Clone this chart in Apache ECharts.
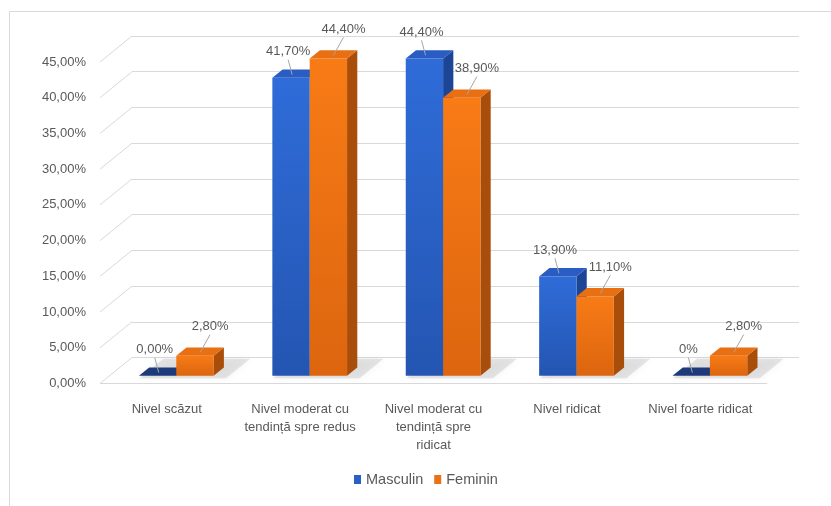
<!DOCTYPE html>
<html><head><meta charset="utf-8">
<script src="https://cdn.jsdelivr.net/npm/echarts@6/dist/echarts.min.js"></script>
<style>html,body{margin:0;padding:0;background:#fff}#c{width:831px;height:506px}</style>
</head><body><div id="c"></div>
<script>
// ---- data ----
const categories = ['Nivel scăzut', 'Nivel moderat cu\ntendință spre redus', 'Nivel moderat cu\ntendință spre\nridicat', 'Nivel ridicat', 'Nivel foarte ridicat'];
const seriesNames = ['Masculin', 'Feminin'];
const masculin = [0, 41.7, 44.4, 13.9, 0];
const feminin = [2.8, 44.4, 38.9, 11.1, 2.8];
const masculinLabels = ['0,00%', '41,70%', '44,40%', '13,90%', '0%'];
const femininLabels = ['2,80%', '44,40%', '38,90%', '11,10%', '2,80%'];
const yTicks = [0, 5, 10, 15, 20, 25, 30, 35, 40, 45];

// ---- 3D look ----
const WX = 32, WY = -26;     // wall depth offset
const F0 = 0.3, BD = 0.32;   // bar front depth & bar depth (fractions of wall depth)
const FONT = 'Liberation Sans';
const TXT = '#595959';
const GRIDC = '#d9d9d9';

const styles = [
  { front: new echarts.graphic.LinearGradient(0,0,0,1,[{offset:0,color:'#2f6cd8'},{offset:1,color:'#2455b2'}]),
    top: '#295dc4', topZero: '#1d3b7a', side: '#1c4595', lblDx: -8, lblDy: -22, leadDx: -4 },
  { front: new echarts.graphic.LinearGradient(0,0,0,1,[{offset:0,color:'#f87b16'},{offset:1,color:'#dc650e'}]),
    top: '#e86f12', topZero: '#e86f12', side: '#a94d0a', lblDx: 10, lblDy: -25, leadDx: 0 }
];

function barRender(s, labels) {
  return function (params, api) {
    const ci = api.value(0), v = api.value(1);
    const base = api.coord([ci, 0]);
    const top = api.coord([ci, v]);
    const band = api.size([1, 0])[0];
    const bw = band * 0.28;
    const x0 = base[0] + (s === 0 ? -bw : 0) + WX * F0;
    const x1 = x0 + bw;
    const yb = base[1] + WY * F0;
    const yt = top[1] + WY * F0;
    const dx = WX * BD, dy = WY * BD;
    const st = styles[s];
    const tcx = x0 + bw / 2 + dx / 2, tcy = yt + dy / 2;
    const lx = tcx + st.lblDx, ly = tcy + st.lblDy;
    return {
      type: 'group',
      children: [
        { type: 'polygon', shape: { points: [[x1, yb], [x1 + dx, yb + dy], [x1 + dx, yt + dy], [x1, yt]] }, style: { fill: st.side } },
        { type: 'rect', shape: { x: x0, y: yt, width: bw, height: Math.max(0, yb - yt) }, style: { fill: st.front } },
        { type: 'polygon', shape: { points: [[x0, yt], [x1, yt], [x1 + dx, yt + dy], [x0 + dx, yt + dy]] }, style: { fill: v === 0 ? st.topZero : st.top } },
        { type: 'line', shape: { x1: lx, y1: ly + 8, x2: tcx + st.leadDx, y2: tcy + 1 }, style: { stroke: '#a6a6a6', lineWidth: 1 }, z2: 5 },
        { type: 'text', x: lx, y: ly, style: { text: labels[params.dataIndex], fill: TXT, font: '13px ' + FONT, align: 'center', verticalAlign: 'middle' }, z2: 6 }
      ]
    };
  };
}

function wallRender(params, api) {
  const t = api.value(1);
  const p = api.coord([0, t]);
  const cs = params.coordSys;
  const ch = [
    { type: 'line', shape: { x1: cs.x, y1: p[1], x2: cs.x + WX, y2: p[1] + WY }, style: { stroke: GRIDC, lineWidth: 1 } }
  ];
  if (t === 0) {
    ch.push({ type: 'line', shape: { x1: cs.x, y1: p[1], x2: cs.x + cs.width, y2: p[1] }, style: { stroke: GRIDC, lineWidth: 1.2 } });
  }
  return { type: 'group', children: ch };
}

function shadowRender(params, api) {
  const ci = api.value(0);
  const base = api.coord([ci, 0]);
  const band = api.size([1, 0])[0];
  const bw = band * 0.28;
  const xl = base[0] - bw + WX * F0 - 6;
  const xr = base[0] + bw + WX * F0 + 6;
  const fa = F0 - 0.1, fb = 0.95;
  const y = base[1];
  return {
    type: 'polygon',
    shape: { points: [[xl + WX * fa, y + WY * fa], [xr + WX * fa, y + WY * fa], [xr + WX * fb, y + WY * fb], [xl + WX * fb, y + WY * fb]] },
    style: { fill: 'rgba(170,170,170,0.28)', shadowBlur: 7, shadowColor: 'rgba(160,160,160,0.5)' }
  };
}

const chart = echarts.init(document.getElementById('c'), null, { renderer: 'canvas' });
const frontGrid = { left: 100, right: 64, top: 62, bottom: 122.5 };
chart.setOption({
  animation: false,
  backgroundColor: '#fff',
  textStyle: { fontFamily: FONT },
  graphic: [
    { type: 'rect', shape: { x: 9.5, y: 11.5, width: 830, height: 500 }, style: { fill: 'none', stroke: GRIDC, lineWidth: 1 }, silent: true, z: -10 }
  ],
  legend: {
    bottom: 14, left: 349,
    itemWidth: 7, itemHeight: 9, itemGap: 11, itemTextGap: 5,
    icon: 'rect',
    textStyle: { color: TXT, fontSize: 14.5, fontFamily: FONT },
    data: [
      { name: 'Masculin', itemStyle: { color: '#2a5fc8' } },
      { name: 'Feminin', itemStyle: { color: '#ea7214' } }
    ]
  },
  grid: [
    Object.assign({}, frontGrid),
    { left: frontGrid.left + WX, right: frontGrid.right - WX, top: frontGrid.top + WY, bottom: frontGrid.bottom - WY }
  ],
  xAxis: [
    { type: 'category', gridIndex: 0, data: categories,
      axisLine: { show: false }, axisTick: { show: false },
      axisLabel: { color: TXT, fontSize: 13, fontFamily: FONT, margin: 17, lineHeight: 18, interval: 0 } },
    { type: 'category', gridIndex: 1, data: categories, show: false }
  ],
  yAxis: [
    { type: 'value', gridIndex: 0, min: 0, max: 45, interval: 5,
      axisLine: { show: false }, axisTick: { show: false }, splitLine: { show: false },
      axisLabel: { color: TXT, fontSize: 13, fontFamily: FONT, margin: 14,
        formatter: v => v.toFixed(2).replace('.', ',') + '%' } },
    { type: 'value', gridIndex: 1, min: 0, max: 45, interval: 5,
      axisLine: { show: false }, axisTick: { show: false }, axisLabel: { show: false },
      splitLine: { show: true, lineStyle: { color: GRIDC, width: 1.2 } } }
  ],
  series: [
    { type: 'custom', name: 'wall', xAxisIndex: 0, yAxisIndex: 0, renderItem: wallRender,
      data: yTicks.map(t => [0, t]), silent: true, z: 1 },
    { type: 'custom', name: 'shadow', xAxisIndex: 0, yAxisIndex: 0, renderItem: shadowRender,
      data: categories.map((c, i) => [i, 0]), silent: true, z: 1 },
    { type: 'custom', name: seriesNames[0], xAxisIndex: 0, yAxisIndex: 0, renderItem: barRender(0, masculinLabels),
      data: masculin.map((v, i) => [i, v]), itemStyle: { color: '#2a5fc8' }, z: 2 },
    { type: 'custom', name: seriesNames[1], xAxisIndex: 0, yAxisIndex: 0, renderItem: barRender(1, femininLabels),
      data: feminin.map((v, i) => [i, v]), itemStyle: { color: '#ea7214' }, z: 3 }
  ]
});
</script>
</body></html>
